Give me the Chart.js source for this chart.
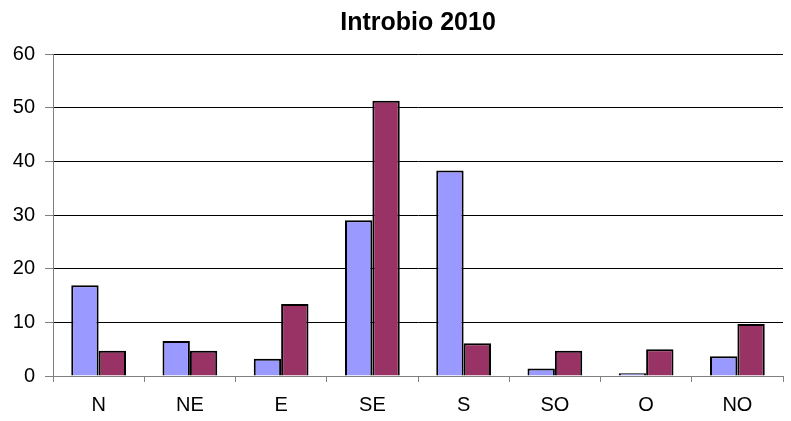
<!DOCTYPE html>
<html>
<head>
<meta charset="utf-8">
<script src="https://cdn.jsdelivr.net/npm/chart.js@4"></script>
<style>
  html, body { margin: 0; padding: 0; background: #fff; }
  #wrap { width: 791px; height: 421px; }
</style>
</head>
<body>
<div id="wrap"><canvas id="chartBar"></canvas></div>
<script>
var categories = ['N', 'NE', 'E', 'SE', 'S', 'SO', 'O', 'NO'];
var serie1 = [16.9, 6.5, 3.2, 29.0, 38.3, 1.4, 0.5, 3.7];
var serie2 = [4.7, 4.7, 13.4, 51.3, 6.1, 4.7, 5.0, 9.7];
var yTicks = [0, 10, 20, 30, 40, 50, 60];

var font = "'Liberation Sans', Arial, sans-serif";

var barChart = new Chart(document.getElementById('chartBar'), {
    type: 'bar',
    data: {
        labels: categories,
        datasets: [
            {
                label: 'Serie 1',
                data: serie1,
                backgroundColor: '#9999FF',
                borderColor: '#000000',
                borderWidth: 2
            },
            {
                label: 'Serie 2',
                data: serie2,
                backgroundColor: '#993366',
                borderColor: '#000000',
                borderWidth: 2
            }
        ]
    },
    options: {
        responsive: true,
        maintainAspectRatio: false,
        animation: false,
        layout: { padding: { left: 0, right: 8, top: 0, bottom: 0 } },
        datasets: {
            bar: { categoryPercentage: 0.6, barPercentage: 1.0 }
        },
        plugins: {
            legend: { display: false },
            tooltip: { enabled: false },
            title: {
                display: true,
                fullSize: false,
                text: 'Introbio 2010',
                color: '#000',
                font: { family: font, size: 25, weight: 'bold' },
                padding: { top: 8, bottom: 16 }
            }
        },
        scales: {
            x: {
                offset: true,
                grid: {
                    offset: true,
                    drawOnChartArea: false,
                    tickLength: 6,
                    tickColor: '#808080'
                },
                border: { color: '#808080', width: 1 },
                ticks: {
                    color: '#000',
                    font: { family: font, size: 20 },
                    padding: 11
                },
                afterFit: function (scale) { scale.height = 45; }
            },
            y: {
                min: 0,
                max: 60,
                afterBuildTicks: function (scale) {
                    scale.ticks = yTicks.map(function (v) { return { value: v }; });
                },
                grid: {
                    color: '#000',
                    lineWidth: 1,
                    tickLength: 8,
                    tickColor: '#808080'
                },
                border: { color: '#808080', width: 1 },
                ticks: {
                    color: '#000',
                    font: { family: font, size: 20 },
                    padding: 10
                },
                afterFit: function (scale) { scale.width = 53; }
            }
        }
    }
});
</script>
</body>
</html>
